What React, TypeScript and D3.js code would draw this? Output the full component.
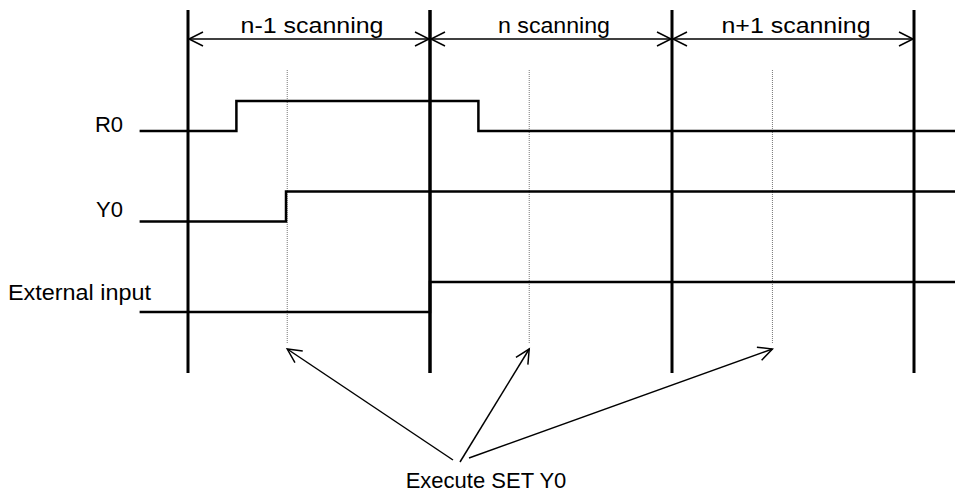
import { useEffect, useRef } from "react";
import * as d3 from "d3";

// scan boundaries (in scan units) and their labels
const scanBounds = [0, 1, 2, 3];
const scanLabels = ["n-1 scanning", "n scanning", "n+1 scanning"];
const scanLabelWidths = [143, 112, 149];

// signal rows and their transitions: [time, level]
const rowNames = ["R0", "Y0", "External input"];
const r0Steps: [number, number][] = [[-0.2, 0], [0.2, 1], [1.2, 0], [3.2, 0]];
const y0Steps: [number, number][] = [[-0.2, 0], [0.405, 1], [3.2, 1]];
const extSteps: [number, number][] = [[-0.2, 0], [1, 1], [3.2, 1]];

// SET Y0 execution moments within each scan
const execTimes = [0.41, 1.41, 2.415];
const execLabel = "Execute SET Y0";

export default function App() {
  const ref = useRef<SVGSVGElement>(null);

  useEffect(() => {
    draw();
  }, []);

  function draw() {
    const svg = d3.select(ref.current);
    svg.selectAll("*").remove();

    const font = "'Liberation Sans', Arial, sans-serif";
    const x = d3.scaleLinear().domain([0, 3]).range([188, 914]);
    const rowY = d3.scalePoint<string>().domain(rowNames).range([131, 312]);
    const amp = 30;

    const chevron = (tipX: number, tipY: number, dx: number, dy: number) => {
      // open arrow head, dx/dy unit direction of travel
      const len = 14, half = 7;
      const bx = tipX - dx * len, by = tipY - dy * len;
      return `M${bx - dy * half},${by + dx * half}L${tipX},${tipY}L${bx + dy * half},${by - dx * half}`;
    };

    // scan boundaries
    svg.selectAll(".bound")
      .data(scanBounds)
      .enter()
      .append("line")
      .attr("x1", d => x(d)).attr("x2", d => x(d))
      .attr("y1", 10).attr("y2", 373)
      .attr("stroke", "#000")
      .attr("stroke-width", (d, i) => (i === 1 ? 3.5 : 3));

    // scan span arrows
    const arrowY = 39;
    scanLabels.forEach((lab, i) => {
      const x0 = x(scanBounds[i]), x1 = x(scanBounds[i + 1]);
      svg.append("line")
        .attr("x1", x0).attr("x2", x1)
        .attr("y1", arrowY).attr("y2", arrowY)
        .attr("stroke", "#000").attr("stroke-width", 1.5);
      svg.append("path").attr("d", chevron(x0 + 1, arrowY, -1, 0))
        .attr("fill", "none").attr("stroke", "#000").attr("stroke-width", 1.5);
      svg.append("path").attr("d", chevron(x1 - 1, arrowY, 1, 0))
        .attr("fill", "none").attr("stroke", "#000").attr("stroke-width", 1.5);
      svg.append("text")
        .attr("x", (x0 + x1) / 2 + 3).attr("y", 33)
        .attr("text-anchor", "middle")
        .attr("textLength", scanLabelWidths[i])
        .attr("lengthAdjust", "spacingAndGlyphs")
        .style("font-family", font).style("font-size", "22px")
        .text(lab);
    });

    // execution markers
    svg.selectAll(".exec")
      .data(execTimes)
      .enter()
      .append("line")
      .attr("x1", d => x(d)).attr("x2", d => x(d))
      .attr("y1", 70).attr("y2", 344)
      .attr("stroke", "#777")
      .attr("stroke-width", 1)
      .attr("stroke-dasharray", "1,1");

    // signals
    const steps = [r0Steps, y0Steps, extSteps];
    steps.forEach((s, i) => {
      const base = rowY(rowNames[i])!;
      const line = d3.line<[number, number]>()
        .x(d => x(d[0]))
        .y(d => base - d[1] * amp)
        .curve(d3.curveStepAfter);
      svg.append("path")
        .attr("d", line(s))
        .attr("fill", "none")
        .attr("stroke", "#000")
        .attr("stroke-width", 2.5);
    });

    // row labels
    svg.append("text").attr("x", 123).attr("y", 132).attr("text-anchor", "end")
      .style("font-family", font).style("font-size", "22px").text(rowNames[0]);
    svg.append("text").attr("x", 123).attr("y", 217).attr("text-anchor", "end")
      .style("font-family", font).style("font-size", "22px").text(rowNames[1]);
    svg.append("text").attr("x", 8).attr("y", 300)
      .attr("textLength", 143).attr("lengthAdjust", "spacingAndGlyphs")
      .style("font-family", font).style("font-size", "22px").text(rowNames[2]);

    // callout arrows
    const starts = [[453, 460], [460, 462], [469, 458]];
    execTimes.forEach((t, i) => {
      const [sx, sy] = starts[i];
      const tx = x(t), ty = 349;
      const len = Math.hypot(tx - sx, ty - sy);
      const dx = (tx - sx) / len, dy = (ty - sy) / len;
      svg.append("line")
        .attr("x1", sx).attr("y1", sy).attr("x2", tx).attr("y2", ty)
        .attr("stroke", "#000").attr("stroke-width", 1.5);
      svg.append("path").attr("d", chevron(tx, ty, dx, dy))
        .attr("fill", "none").attr("stroke", "#000").attr("stroke-width", 1.5);
    });

    svg.append("text")
      .attr("x", 486).attr("y", 488)
      .attr("text-anchor", "middle")
      .style("font-family", font).style("font-size", "22px")
      .text(execLabel);
  }

  return (
    <svg
      ref={ref}
      width={955}
      height={494}
      style={{ position: "absolute", left: 0, top: 0, background: "#fff" }}
    />
  );
}
